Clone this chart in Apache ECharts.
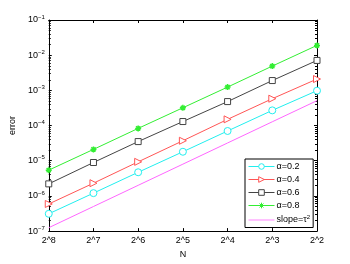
<!DOCTYPE html>
<html><head><meta charset="utf-8">
<script src="https://cdn.jsdelivr.net/npm/echarts@6/dist/echarts.min.js"></script>
<style>html,body{margin:0;padding:0;background:#fff}#c{width:350px;height:264px}</style>
</head><body><div id="c"></div>
<script>
const categories = ['2^8','2^7','2^6','2^5','2^4','2^3','2^2'];
const seriesNames = ['α=0.2','α=0.4','α=0.6','α=0.8','slope=τ2'];
const alpha02 = [3.1e-7, 1.2e-6, 4.7e-6, 1.8e-5, 7.0e-5, 2.7e-4, 9.8e-4];
const alpha04 = [5.9e-7, 2.3e-6, 9.3e-6, 3.7e-5, 1.5e-4, 5.8e-4, 2.1e-3];
const alpha06 = [2.2e-6, 8.9e-6, 3.5e-5, 1.3e-4, 4.8e-4, 1.9e-3, 7.1e-3];
const alpha08 = [5.4e-6, 2.1e-5, 8.3e-5, 3.2e-4, 1.24e-3, 4.9e-3, 1.9e-2];
const slope = [1.25e-7, 5.0e-7, 2.0e-6, 8.0e-6, 3.2e-5, 1.28e-4, 5.1e-4];

const font = 'Liberation Sans, Arial, sans-serif';
const colors = ['#22eeee', '#ff5555', '#444444', '#33ee33', '#ff66ff'];
const chart = echarts.init(document.getElementById('c'), null, {renderer:'canvas'});
const yFmt = v => {
  const e = Math.round(Math.log10(v));
  return '{b|10}{s|' + (e < 0 ? '\u2212' + (-e) : e) + '}';
};
const yRich = {b:{fontSize:9,fontFamily:font,color:'#000'}, s:{fontSize:6,fontFamily:font,color:'#000',verticalAlign:'top',padding:[0,0,6,0]}};
const mk = (name, data, color, symbol, extra) => Object.assign({
  name, type:'line', data, symbol, symbolSize:7,
  lineStyle:{color, width:1}, itemStyle:{color:'#fff', borderColor:color, borderWidth:1},
  color, animation:false, z:3
}, extra||{});
const triRight = 'path://M0,0 L10,5 L0,10 Z';
const star = 'path://M5,0 L5,10 M0,5 L10,5 M1.5,1.5 L8.5,8.5 M8.5,1.5 L1.5,8.5';
chart.setOption({
  animation:false,
  grid:{left:45, top:20, width:272, height:214, show:false},
  legend:{
    orient:'vertical', left:245, top:159, width:72,
    backgroundColor:'#fff', borderColor:'#000', borderWidth:1,
    padding:[3,3,3,3], itemGap:4, itemWidth:26, itemHeight:7,
    lineStyle:{width:1}, itemStyle:{borderWidth:1},
    textStyle:{fontSize:9, fontFamily:font, color:'#000', padding:[0,0,0,-3],
      rich:{s:{fontSize:6,fontFamily:font,verticalAlign:'top',padding:[0,0,6,0]}}},
    formatter: n => n === seriesNames[4] ? 'slope=τ{s|2}' : n,
    data: [
      {name:seriesNames[0]}, {name:seriesNames[1]}, {name:seriesNames[2]}, {name:seriesNames[3]},
      {name:seriesNames[4], icon:'path://M0,4.6L26,4.6L26,5.4L0,5.4Z', itemStyle:{color:colors[4], borderWidth:0}}
    ]
  },
  xAxis:[{
    type:'category', data:categories, boundaryGap:false,
    name:'N', nameLocation:'middle', nameGap:15,
    nameTextStyle:{fontSize:9,fontFamily:font,color:'#000'},
    axisLine:{onZero:false, lineStyle:{color:'#000', width:1}},
    axisTick:{inside:true, length:3, alignWithLabel:true, lineStyle:{color:'#000'}},
    axisLabel:{fontSize:9, fontFamily:font, color:'#000', margin:5},
    splitLine:{show:false}
  },{
    type:'category', data:categories, boundaryGap:false, position:'top',
    axisLine:{lineStyle:{color:'#000', width:1}},
    axisTick:{inside:true, length:3, lineStyle:{color:'#000'}},
    axisLabel:{show:false}, splitLine:{show:false}
  }],
  yAxis:[{
    type:'log', logBase:10, min:1e-7, max:1e-1,
    name:'error', nameLocation:'middle', nameGap:26,
    nameTextStyle:{fontSize:9,fontFamily:font,color:'#000'},
    axisLine:{show:true, lineStyle:{color:'#000', width:1}},
    axisTick:{show:true, inside:true, length:3, lineStyle:{color:'#000'}},
    minorTick:{show:true, splitNumber:9, length:2, lineStyle:{color:'#000'}},
    axisLabel:{formatter:yFmt, rich:yRich, margin:4},
    splitLine:{show:false}
  },{
    type:'log', logBase:10, min:1e-7, max:1e-1, position:'right',
    axisLine:{show:true, lineStyle:{color:'#000', width:1}},
    axisTick:{show:true, inside:true, length:3, lineStyle:{color:'#000'}},
    minorTick:{show:true, splitNumber:9, length:2, lineStyle:{color:'#000'}},
    axisLabel:{show:false}, splitLine:{show:false}
  }],
  series:[
    mk(seriesNames[0], alpha02, colors[0], 'circle'),
    mk(seriesNames[1], alpha04, colors[1], triRight),
    mk(seriesNames[2], alpha06, colors[2], 'rect', {symbolSize:6}),
    mk(seriesNames[3], alpha08, colors[3], star, {symbolSize:6, itemStyle:{color:colors[3], borderColor:colors[3], borderWidth:1.5}}),
    mk(seriesNames[4], slope, colors[4], 'none', {showSymbol:false})
  ]
});
</script></body></html>
